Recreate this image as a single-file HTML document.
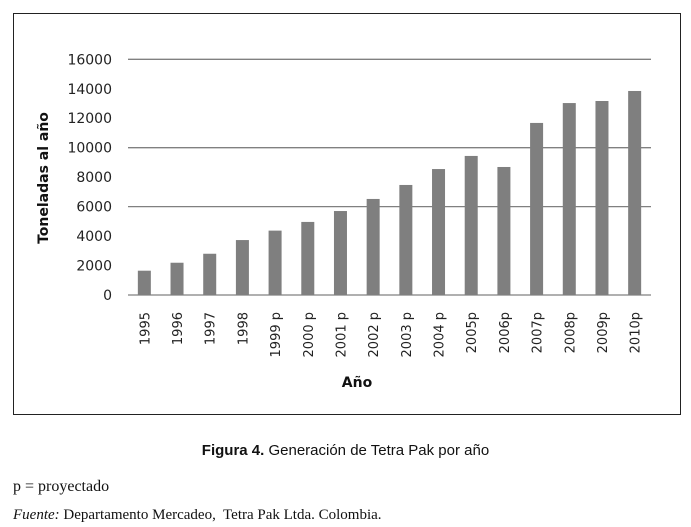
<!DOCTYPE html>
<html><head><meta charset="utf-8"><style>
body{margin:0;background:#fff;width:691px;height:527px;position:relative;overflow:hidden}
.t{position:absolute;white-space:nowrap}
</style></head><body>
<svg width="691" height="527" style="position:absolute;left:0;top:0">
<rect x="13.5" y="13.5" width="667" height="401" fill="#fff" stroke="#222" stroke-width="1"/>
<g id="grid"></g><g id="bars"></g><g id="yt"></g><g id="xt"></g>
<text transform="translate(48,178) rotate(-90)" text-anchor="middle" font-family="DejaVu Sans, sans-serif" font-weight="bold" font-size="14" fill="#111">Toneladas al año</text>
<text x="357" y="387" text-anchor="middle" font-family="DejaVu Sans, sans-serif" font-weight="bold" font-size="14" fill="#111">Año</text>
</svg>
<div class="t" style="left:0;width:691px;text-align:center;top:442px;font:15px 'Liberation Sans',sans-serif;color:#111"><b>Figura 4.</b> Generación de Tetra Pak por año</div>
<div class="t" style="left:13px;top:478px;font:16px 'Liberation Serif',serif;color:#111">p = proyectado</div>
<div class="t" style="left:13px;top:507px;font:15px 'Liberation Serif',serif;color:#111"><i>Fuente:</i> Departamento Mercadeo,&nbsp; Tetra Pak Ltda. Colombia.</div>
<script>
const categories=["1995","1996","1997","1998","1999 p","2000 p","2001 p","2002 p","2003 p","2004 p","2005p","2006p","2007p","2008p","2009p","2010p"];
const values=[1650,2190,2800,3730,4370,4960,5700,6520,7470,8550,9440,8690,11680,13030,13170,13850];
const yTicks=[0,2000,4000,6000,8000,10000,12000,14000,16000];
const gridValues=[6000,10000,16000];
const X0=128,X1=651,Y0=295,Y1=59.3,YMAX=16000;
const ns="http://www.w3.org/2000/svg";
function y(v){return Y0-(v/YMAX)*(Y0-Y1);}
function xc(i){const p=(X1-X0)/categories.length;return X0+p*(i+0.5);}
function mk(t,a,parent){const e=document.createElementNS(ns,t);for(const k in a)e.setAttribute(k,a[k]);document.getElementById(parent).appendChild(e);return e;}
gridValues.forEach(v=>{
 const l=mk('line',{x1:X0,x2:X1,y1:y(v),y2:y(v),stroke:'#808080','stroke-width':1.3},'grid');
 
 
});
const ax=mk('line',{x1:X0,x2:X1,y1:Y0,y2:Y0,stroke:'#808080','stroke-width':1.3},'grid');


values.forEach((v,i)=>{
 const r=mk('rect',{x:xc(i)-6.5,y:y(v),width:13,height:Y0-y(v),fill:'#7f7f7f'},'bars');
 
 
});
yTicks.forEach(v=>{
 const t=mk('text',{x:112,y:y(v)+5,'text-anchor':'end','font-family':'DejaVu Sans, sans-serif','font-size':14,fill:'#222'},'yt');
 t.textContent=v;
 
 
});
categories.forEach((c,i)=>{
 const t=mk('text',{transform:`translate(${xc(i)+5},312) rotate(-90)`,'text-anchor':'end','font-family':'DejaVu Sans, sans-serif','font-size':13,fill:'#222'},'xt');
 t.textContent=c;
 
 
});
</script>
</body></html>
